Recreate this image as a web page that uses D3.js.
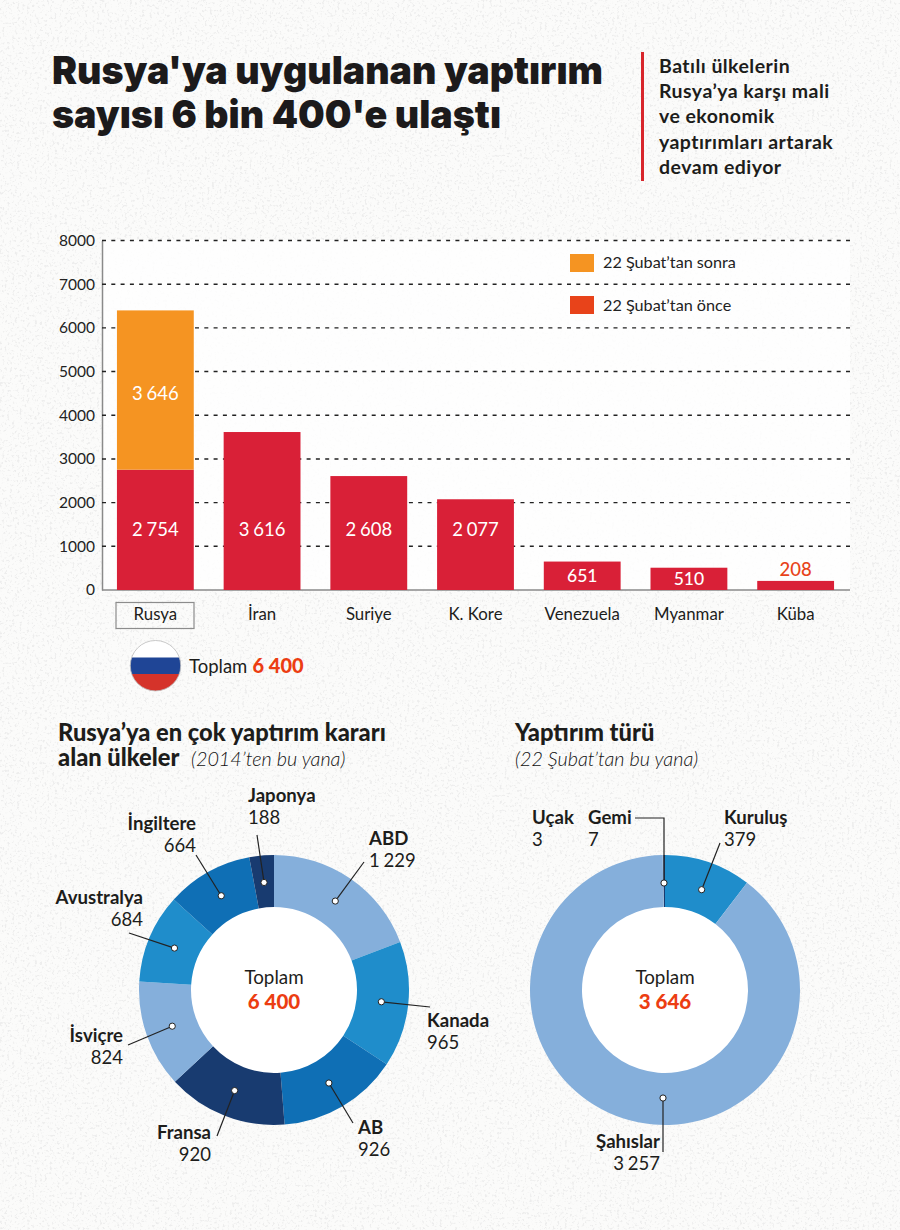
<!DOCTYPE html>
<html><head><meta charset="utf-8">
<script src="https://cdn.jsdelivr.net/npm/d3@7/dist/d3.min.js"></script>
<style>html,body{margin:0;padding:0;background:#fbfbfa}svg{display:block}text{font-family:Lato,sans-serif;fill:#1d1d1b}</style>
</head><body><div id="c"></div>
<script>
const countries=["Rusya","İran","Suriye","K. Kore","Venezuela","Myanmar","Küba"];
const before=[2754,3616,2608,2077,651,510,208];
const after=[3646,0,0,0,0,0,0];
const yTicks=[0,1000,2000,3000,4000,5000,6000,7000,8000];
const senders=["ABD","Kanada","AB","Fransa","İsviçre","Avustralya","İngiltere","Japonya"];
const senderValues=[1229,965,926,920,824,684,664,188];
const senderColors=["#85afdb","#1f8dcb","#0f6fb5","#183b70","#85afdb","#1f8dcb","#0f6fb5","#183b70"];
const types=["Kuruluş","Şahıslar","Uçak","Gemi"];
const typeValues=[379,3257,3,7];
const typeColors=["#1f8dcb","#85afdb","#85afdb","#183b70"];
const fmt=v=>{const s=String(v);return s.length>3?s.slice(0,-3)+" "+s.slice(-3):s};

const W=900,H=1230;
const svg=d3.select("#c").append("svg").attr("width",W).attr("height",H).attr("viewBox",`0 0 ${W} ${H}`);
const defs=svg.append("defs");
const f=defs.append("filter").attr("id","grain").attr("x",0).attr("y",0).attr("width","100%").attr("height","100%");
f.append("feTurbulence").attr("type","fractalNoise").attr("baseFrequency",0.4).attr("numOctaves",4).attr("seed",4);
f.append("feColorMatrix").attr("type","matrix").attr("values","0 0 0 0 0.78  0 0 0 0 0.78  0 0 0 0 0.78  0 0 0 5 -2.75");
svg.append("rect").attr("width",W).attr("height",H).attr("fill","#fbfbfa");
svg.append("rect").attr("width",W).attr("height",H).attr("filter","url(#grain)").attr("opacity",.6);

// title
[["Rusya'ya uygulanan yaptırım",84,551],["sayısı 6 bin 400'e ulaştı",128,449]].forEach(d=>{
 svg.append("text").attr("x",52).attr("y",d[1]).attr("font-size",39).attr("font-weight",900)
  .attr("textLength",d[2]).attr("lengthAdjust","spacingAndGlyphs").text(d[0]).style("font-family","Inter,sans-serif").style("fill","#1c1a1b");
});
svg.append("rect").attr("x",641).attr("y",52).attr("width",3).attr("height",129).attr("fill","#d8262c");
["Batılı ülkelerin","Rusya’ya karşı mali","ve ekonomik","yaptırımları artarak","devam ediyor"].forEach((t,i)=>{
 svg.append("text").attr("x",659).attr("y",[73,98,123,149,174][i]).attr("font-size",19.5).attr("letter-spacing",.45).attr("font-weight",700).text(t);
});

// bar chart
const x=d3.scaleBand().domain(countries).range([102,849]).paddingInner(.28).paddingOuter(.14);
const y=d3.scaleLinear().domain([0,8000]).range([590,240.5]);
const plot=svg.append("g");
plot.append("rect").attr("x",102).attr("y",240).attr("width",748).attr("height",350).attr("fill","#fff").attr("opacity",.8);
const yAxis=d3.axisLeft(y).tickValues(yTicks).tickSize(0).tickPadding(7).tickFormat(d=>d);
const ga=plot.append("g").attr("transform","translate(102,0)").call(yAxis);
ga.select(".domain").attr("stroke","#8a8a8a").attr("stroke-width",1.5);
ga.selectAll("text").attr("font-size",15.5).style("fill","#222");
plot.append("g").selectAll("line").data(yTicks.filter(d=>d>0)).join("line")
 .attr("x1",102).attr("x2",850).attr("y1",y).attr("y2",y)
 .attr("stroke","#222").attr("stroke-width",1.4).attr("stroke-dasharray","4 5.3");
plot.append("line").attr("x1",102).attr("x2",850).attr("y1",y(0)).attr("y2",y(0)).attr("stroke","#8a8a8a").attr("stroke-width",1.5);
plot.selectAll("rect.b").data(countries).join("rect").attr("class","b")
 .attr("x",d=>x(d)).attr("width",x.bandwidth()).attr("y",(d,i)=>y(before[i])).attr("height",(d,i)=>y(0)-y(before[i])).attr("fill","#d92037");
plot.selectAll("rect.a").data(countries.filter((d,i)=>after[i]>0)).join("rect").attr("class","a")
 .attr("x",d=>x(d)).attr("width",x.bandwidth()).attr("y",(d,i)=>y(before[i]+after[i])).attr("height",(d,i)=>y(before[i])-y(before[i]+after[i])).attr("fill","#f59422");
countries.forEach((c,i)=>{
 const cx=x(c)+x.bandwidth()/2, small=before[i]<400, low=before[i]<1000;
 plot.append("text").attr("x",cx).attr("text-anchor","middle").attr("font-size",low&&!small?17.5:18.5).attr("font-weight",low?500:400).attr("word-spacing",-1)
  .attr("y",small?y(before[i])-5:low?y(before[i]/2)+6:536).style("fill",small?"#e8431a":"#fff").text(fmt(before[i]));
 if(after[i]) plot.append("text").attr("x",cx).attr("text-anchor","middle").attr("font-size",18.5).attr("word-spacing",-1)
  .attr("y",400).style("fill","#fff").text(fmt(after[i]));
 plot.append("text").attr("x",cx).attr("y",620).attr("text-anchor","middle").attr("font-size",16.8).text(c);
});
svg.append("rect").attr("x",116).attr("y",602.5).attr("width",78).attr("height",26).attr("fill","none").attr("stroke","#8c8c8c").attr("stroke-width",1.2);
[["22 Şubat’tan sonra","#f59422",254,268],["22 Şubat’tan önce","#e8431a",296,311]].forEach(d=>{
 svg.append("rect").attr("x",570).attr("y",d[2]).attr("width",24).attr("height",18).attr("fill",d[1]);
 svg.append("text").attr("x",603).attr("y",d[3]).attr("font-size",16.2).style("fill","#222").text(d[0]);
});

// flag
defs.append("clipPath").attr("id","flag").append("circle").attr("cx",155.5).attr("cy",665.7).attr("r",25.2);
const fl=svg.append("g").attr("clip-path","url(#flag)");
fl.append("rect").attr("x",130).attr("y",640).attr("width",51).attr("height",18).attr("fill","#fff");
fl.append("rect").attr("x",130).attr("y",657.5).attr("width",51).attr("height",16.5).attr("fill","#1f4596");
fl.append("rect").attr("x",130).attr("y",674).attr("width",51).attr("height",18).attr("fill","#d5332a");
svg.append("circle").attr("cx",155.5).attr("cy",665.7).attr("r",25.2).attr("fill","none").attr("stroke","#bbb").attr("stroke-width",.8);
svg.append("text").attr("x",189).attr("y",673).attr("font-size",18.5).text("Toplam");
svg.append("text").attr("x",252.5).attr("y",673).attr("font-size",20).attr("font-weight",900).style("fill","#ec3d12").text("6 400");

// section heads
const head=svg.append("text").attr("font-size",23.7).attr("font-weight",900);
head.append("tspan").attr("x",58).attr("y",741).text("Rusya’ya en çok yaptırım kararı");
head.append("tspan").attr("x",58).attr("y",766).text("alan ülkeler");
svg.append("text").attr("x",515).attr("y",741).attr("font-size",23.7).attr("font-weight",900).text("Yaptırım türü");
[["(2014’ten bu yana)",191],["(22 Şubat’tan bu yana)",515]].forEach(d=>{
 svg.append("text").attr("x",d[1]).attr("y",766).attr("font-size",19.8).attr("font-weight",300).attr("font-style","italic").style("fill","#111").text(d[0]);
});

// donuts
const pie=d3.pie().sort(null);
const R=135,r=83;
const arc=d3.arc().innerRadius(r).outerRadius(R);
const dotArc=d3.arc().innerRadius(108).outerRadius(108);
function donut(cx,cy,values,colors,total){
 const g=svg.append("g").attr("transform",`translate(${cx},${cy})`);
 g.append("circle").attr("r",r+1).attr("fill","#fff");
 const ps=pie(values);
 g.selectAll("path").data(ps).join("path").attr("d",arc).attr("fill",(d,i)=>colors[i]);
 g.append("text").attr("y",-6).attr("text-anchor","middle").attr("font-size",18.8).attr("font-weight",400).text("Toplam");
 g.append("text").attr("y",19).attr("text-anchor","middle").attr("font-size",20.5).attr("font-weight",900).style("fill","#ec3d12").text(total);
 return {g,ps};
}
function leader(pts,dot){
 svg.append("path").attr("d",d3.line()(pts)).attr("fill","none").attr("stroke","#222").attr("stroke-width",1.2);
 svg.append("circle").attr("cx",dot[0]).attr("cy",dot[1]).attr("r",3.1).attr("fill","#fff").attr("stroke","#222").attr("stroke-width",1);
}
function label(name,val,x,yy,anchor){
 svg.append("text").attr("x",x).attr("y",yy).attr("text-anchor",anchor).attr("font-size",18.6).attr("font-weight",700).text(name);
 svg.append("text").attr("x",x).attr("y",yy+22).attr("text-anchor",anchor).attr("font-size",18.5).attr("font-weight",400).attr("word-spacing",-1).text(val);
}
const d1=donut(274,990,senderValues,senderColors,"6 400");
const leaderEnds1=[[364,862],[430,1007],[353,1123],[217,1136],[128,1045],[129,933],[196,855],[257,835]];
const labels1=[["start",369,845],["start",427,1027],["start",358,1134],["end",211,1139],["end",123,1042],["end",143,904],["end",196,830],["start",248,802]];
d1.ps.forEach((p,i)=>{
 const c=dotArc.centroid(p), dot=[274+c[0],990+c[1]];
 leader([dot,leaderEnds1[i]],dot);
 label(senders[i],fmt(senderValues[i]),labels1[i][1],labels1[i][2],labels1[i][0]);
});
const d2=donut(665,990,typeValues,typeColors,"3 646");
const kc=dotArc.centroid(d2.ps[0]);
leader([[665+kc[0]+2,990+kc[1]+2],[720,843]],[665+kc[0]+2,990+kc[1]+2]);
leader([[635,818],[664,818],[664,883]],[664,883]);
leader([[663,1098],[663,1152]],[663,1098]);
label("Kuruluş","379",724,824,"start");
label("Gemi","7",588,824,"start");
label("Uçak","3",532,824,"start");
label("Şahıslar","3 257",660,1148,"end");
</script></body></html>
